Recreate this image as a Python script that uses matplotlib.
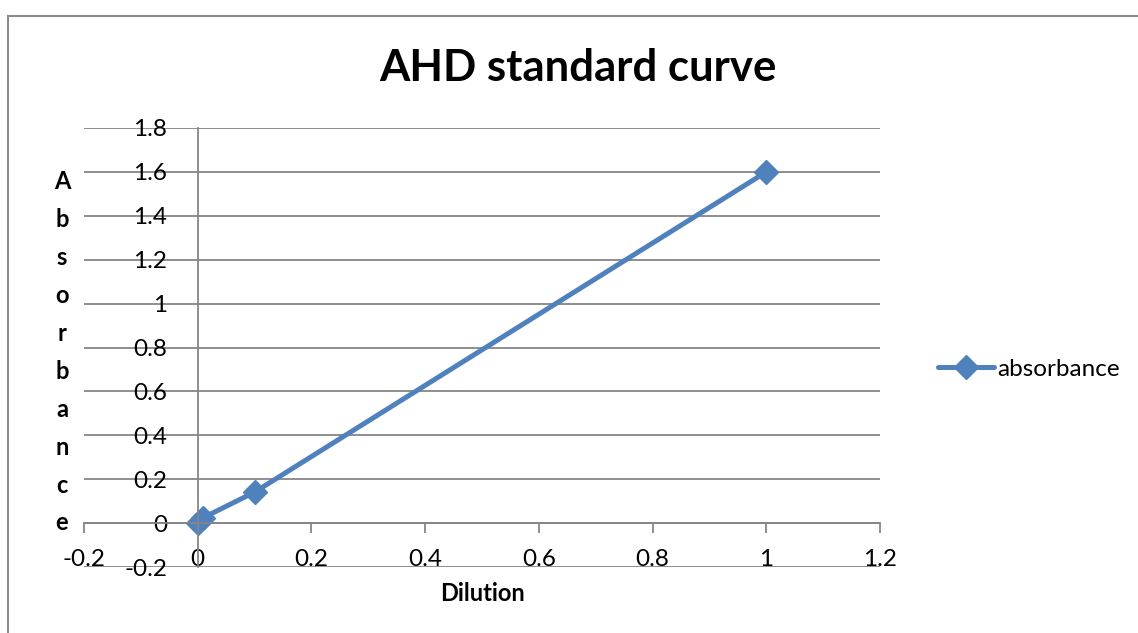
import matplotlib
matplotlib.use("Agg")
import matplotlib.pyplot as plt
from matplotlib.lines import Line2D

# data
dilution = [0, 0.01, 0.1, 1]
absorbance = [0, 0.025, 0.141, 1.6]

x_ticks = [-0.2, 0, 0.2, 0.4, 0.6, 0.8, 1, 1.2]
y_ticks = [-0.2, 0, 0.2, 0.4, 0.6, 0.8, 1, 1.2, 1.4, 1.6, 1.8]

blue = "#4F81BD"
grey = "#868686"

plt.rcParams["font.family"] = ["Lato", "DejaVu Sans"]

fig = plt.figure(figsize=(11.38, 6.33), dpi=100)
ax = fig.add_axes([84 / 1138, 1 - 567 / 633, (880 - 84) / 1138, (567 - 128) / 633])

ax.plot(dilution, absorbance, color=blue, lw=3.6, marker="D", ms=12,
        label="absorbance", solid_capstyle="round", solid_joinstyle="round")

ax.set_xlim(-0.2, 1.2)
ax.set_ylim(-0.2, 1.8)
ax.set_xticks(x_ticks)
ax.set_yticks(y_ticks)
ax.set_xticklabels(["-0.2", "0", "0.2", "0.4", "0.6", "0.8", "1", "1.2"])
ax.set_yticklabels(["-0.2", "0", "0.2", "0.4", "0.6", "0.8", "1", "1.2", "1.4", "1.6", "1.8"])

ax.grid(axis="y", color=grey, lw=1.3)
ax.set_axisbelow(True)
for s in ["top", "right"]:
    ax.spines[s].set_visible(False)
ax.spines["left"].set_position(("data", 0))
ax.spines["bottom"].set_position(("data", 0))
for s in ["left", "bottom"]:
    ax.spines[s].set_color(grey)
    ax.spines[s].set_linewidth(1.3)

ax.tick_params(axis="x", direction="out", length=7, width=1.3, color=grey,
               labelsize=17.5, pad=12)
ax.tick_params(axis="y", direction="out", length=0, labelsize=17.5, pad=22)

ax.set_xlabel("Dilution", fontsize=17, fontweight="bold", labelpad=8)

fig.text(578 / 1138, 1 - 68 / 633, "AHD standard curve", fontsize=31.5,
         fontweight="bold", ha="center", va="center")

# stacked y label
letters = list("Absorbance")
for i, ch in enumerate(letters):
    y = 182 + i * (523 - 182) / (len(letters) - 1)
    fig.text(62 / 1138, 1 - y / 633, ch, fontsize=17, fontweight="bold",
             ha="center", va="center")

fig.legend(handles=[Line2D([0], [0], color=blue, lw=3.6, marker="D", ms=12,
                           solid_capstyle="round")],
           labels=["absorbance"], loc="center left",
           bbox_to_anchor=(928 / 1138, 1 - 369 / 633), frameon=False,
           fontsize=17.5, handlelength=2.3, handletextpad=0.15, borderaxespad=0)

# chart border (only left and top visible in the crop)
fig.add_artist(Line2D([8 / 1138, 8 / 1138], [0, 1 - 16 / 633], color="#8c8c8c", lw=1.5))
fig.add_artist(Line2D([8 / 1138, 1], [1 - 16 / 633, 1 - 16 / 633], color="#8c8c8c", lw=1.5))

fig.savefig("out.png", dpi=100)
